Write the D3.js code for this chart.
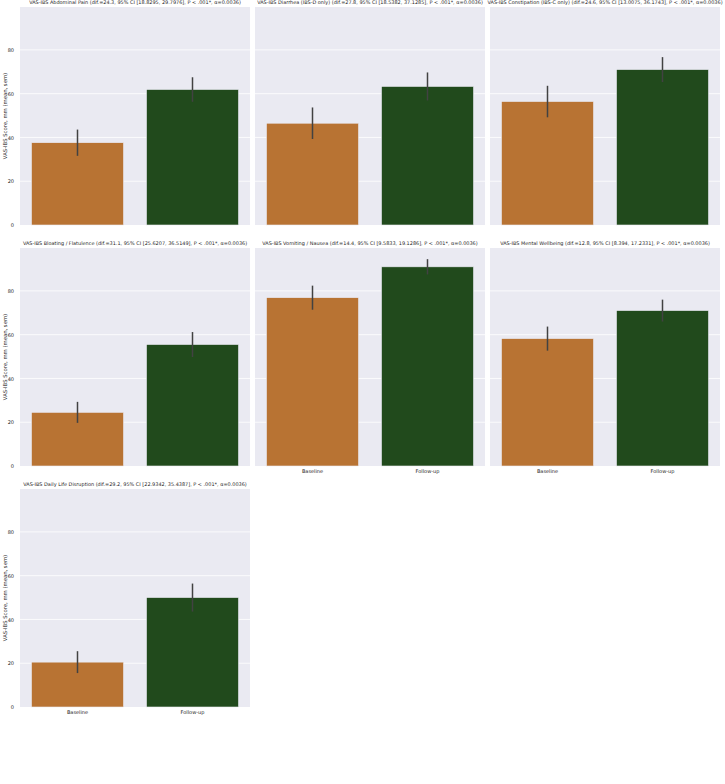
<!DOCTYPE html>
<html><head><meta charset="utf-8">
<script src="https://cdn.jsdelivr.net/npm/d3@7"></script>
<style>body{margin:0;background:#fff;} svg{display:block;}</style>
</head><body>
<svg id="chart" width="725" height="1150"></svg>
<script>
const categories = ["Baseline", "Follow-up"];
const panelTitles = [
  "VAS-IBS Abdominal Pain (dif.=24.3, 95% CI [18.8295, 29.7976], P < .001*, α=0.0036)",
  "VAS-IBS Diarrhea (IBS-D only) (dif.=27.8, 95% CI [18.5382, 37.1285], P < .001*, α=0.0036)",
  "VAS-IBS Constipation (IBS-C only) (dif.=24.6, 95% CI [13.0075, 36.1743], P < .001*, α=0.0036)",
  "VAS-IBS Bloating / Flatulence (dif.=31.1, 95% CI [25.6207, 36.5149], P < .001*, α=0.0036)",
  "VAS-IBS Vomiting / Nausea (dif.=14.4, 95% CI [9.5833, 19.1286], P < .001*, α=0.0036)",
  "VAS-IBS Mental Wellbeing (dif.=12.8, 95% CI [8.394, 17.2331], P < .001*, α=0.0036)",
  "VAS-IBS Daily Life Disruption (dif.=29.2, 95% CI [22.9342, 35.4387], P < .001*, α=0.0036)"
];
const baselineMean = [37.6, 46.5, 56.4, 24.5, 76.9, 58.2, 20.5];
const followupMean = [61.9, 63.3, 71.0, 55.5, 91.0, 71.0, 50.0];
const baselineErr  = [6.0, 7.2, 7.2, 4.8, 5.5, 5.5, 5.0];
const followupErr  = [5.6, 6.4, 5.7, 5.7, 3.5, 5.0, 6.4];
const yTicks = [0, 20, 40, 60, 80];
const yLabel = "VAS-IBS Score, mm (mean, sem)";
const colors = ["#b87333", "#214a1c"];
const captionLines = [
  "VAS-IBS (Irritable Bowel Syndrome–Visual Analog Scale) scores are shown for participants at baseline and 4-week follow-up. Scores are reported",
  "on a 100-point scale ranging from 0 = 'Very severe discomfort' to 100 = 'No discomfort at all', with higher scores indicating greater perceived improvement",
  "in each IBS symptom. Data are presented as mean ± standard deviation (SD)."
];

const svg = d3.select("#chart");
const colX = [20, 255, 490];
const pw = 230;
const rowTop = [7, 248, 489];
const ph = 218;
const font = "DejaVu Sans, sans-serif";

panelTitles.forEach((title, i) => {
  const r = Math.floor(i / 3), c = i % 3;
  const x0 = colX[c], y0 = rowTop[r];
  const g = svg.append("g").attr("transform", `translate(${x0},${y0})`);
  const x = d3.scaleBand().domain(categories).range([0, pw]).paddingInner(0.2).paddingOuter(0.1);
  const y = d3.scaleLinear().domain([0, 99.6]).range([ph, 0]);
  g.append("rect").attr("width", pw).attr("height", ph).attr("fill", "#eaeaf2");
  g.selectAll("line.grid").data(yTicks.filter(t => t > 0)).enter().append("line")
    .attr("x1", 0).attr("x2", pw).attr("y1", d => y(d)).attr("y2", d => y(d))
    .attr("stroke", "#fff").attr("stroke-width", 0.8);
  const data = categories.map((cat, k) => ({
    cat, m: k === 0 ? baselineMean[i] : followupMean[i], e: k === 0 ? baselineErr[i] : followupErr[i], k
  }));
  g.selectAll("rect.bar").data(data).enter().append("rect")
    .attr("x", d => x(d.cat)).attr("width", x.bandwidth())
    .attr("y", d => y(d.m)).attr("height", d => y(0) - y(d.m))
    .attr("fill", d => colors[d.k]).attr("stroke", "#eaeaf2").attr("stroke-width", 0.6);
  g.selectAll("line.err").data(data).enter().append("line")
    .attr("x1", d => x(d.cat) + x.bandwidth() / 2).attr("x2", d => x(d.cat) + x.bandwidth() / 2)
    .attr("y1", d => y(d.m - d.e)).attr("y2", d => y(d.m + d.e))
    .attr("stroke", "#424242").attr("stroke-width", 1.5);
  g.append("text").attr("x", pw / 2).attr("y", -3).attr("text-anchor", "middle")
    .attr("font-family", font).attr("font-size", 4.95).attr("fill", "#262626").text(title);
  if (c === 0) {
    const ax = g.append("g").call(d3.axisLeft(y).tickValues(yTicks).tickSize(0).tickPadding(6));
    ax.select(".domain").remove();
    ax.selectAll("text").attr("font-family", font).attr("font-size", 5).attr("fill", "#262626");
    g.append("text").attr("transform", `translate(-13,${ph / 2}) rotate(-90)`).attr("text-anchor", "middle")
      .attr("font-family", font).attr("font-size", 5.3).attr("fill", "#262626").text(yLabel);
  }
  const lastInCol = (i + 3 >= panelTitles.length);
  if (lastInCol) {
    const axb = g.append("g").attr("transform", `translate(0,${ph})`)
      .call(d3.axisBottom(x).tickSize(0).tickPadding(3));
    axb.select(".domain").remove();
    axb.selectAll("text").attr("font-family", font).attr("font-size", 5).attr("fill", "#262626");
  }
});

const cap = svg.append("text").attr("font-family", font).attr("font-size", 10).attr("fill", "#262626");
captionLines.forEach((l, k) => {
  cap.append("tspan").attr("x", 8).attr("y", 1095 + k * 12.5).text(l);
});
</script>
</body></html>
